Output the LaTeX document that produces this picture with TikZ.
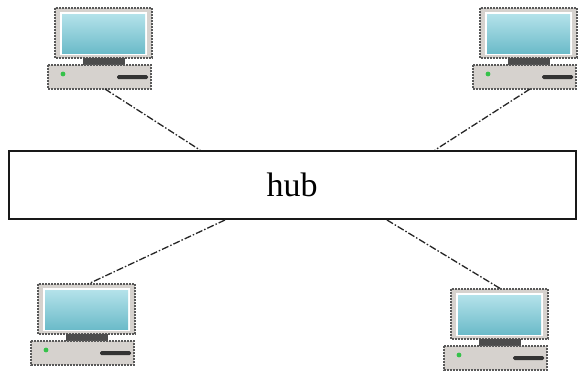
\documentclass[tikz,border=0pt]{standalone}
\usepackage{fontspec}
\setmainfont{Liberation Serif}
\definecolor{casegray}{HTML}{D6D2CE}
\definecolor{screenhi}{HTML}{B4E2EA}
\definecolor{screenlo}{HTML}{6CBBC9}
\definecolor{ledgreen}{HTML}{35C24A}
\begin{document}
\begin{tikzpicture}[x=1pt,y=-1pt,
  cable/.style={draw=black!85, line width=1.3pt,
    dash pattern=on 7pt off 2pt on 1.5pt off 2pt},
  hubbox/.style={draw=black!90, line width=2pt, fill=white,
    minimum width=567pt, minimum height=68pt, inner sep=0pt,
    font=\fontsize{34}{40}\selectfont},
  casing/.style={fill=casegray, draw=black!65, line width=1.3pt,
    dash pattern=on 2pt off 1pt},
  computer/.pic={
    % monitor housing and screen
    \path[casing] (0,0) rectangle (97,50);
    \fill[white] (5,4) rectangle (92,47);
    \shade[top color=screenhi, bottom color=screenlo] (7,6) rectangle (90,45);
    % stand
    \fill[black!70] (28,50) rectangle (70,57);
    % system unit
    \path[casing] (-7,57) rectangle (96,81);
    \fill[ledgreen] (8,66) circle[radius=2.4];
    \fill[black!80, rounded corners=1.5pt] (62,67) rectangle (93,71);
    % cable ports
    \coordinate (-top) at (50,0);
    \coordinate (-bottom) at (50,81);
  }
]
\useasboundingbox (0,0) rectangle (578,370);

% central hub
\node[hubbox] (hub) at (292,185) {hub};
\coordinate (hub-tl) at ([xshift=-92pt]hub.north);
\coordinate (hub-tr) at ([xshift=143pt]hub.north);
\coordinate (hub-bl) at ([xshift=-67pt]hub.south);
\coordinate (hub-br) at ([xshift=95pt]hub.south);

% workstations
\pic (tl) at (55,8) {computer};
\pic (tr) at (480,8) {computer};
\pic (bl) at (38,284) {computer};
\pic (br) at (451,289) {computer};

% cables
\draw[cable] (tl-bottom) -- (hub-tl);
\draw[cable] (tr-bottom) -- (hub-tr);
\draw[cable] (hub-bl) -- (bl-top);
\draw[cable] (hub-br) -- (br-top);
\end{tikzpicture}
\end{document}
